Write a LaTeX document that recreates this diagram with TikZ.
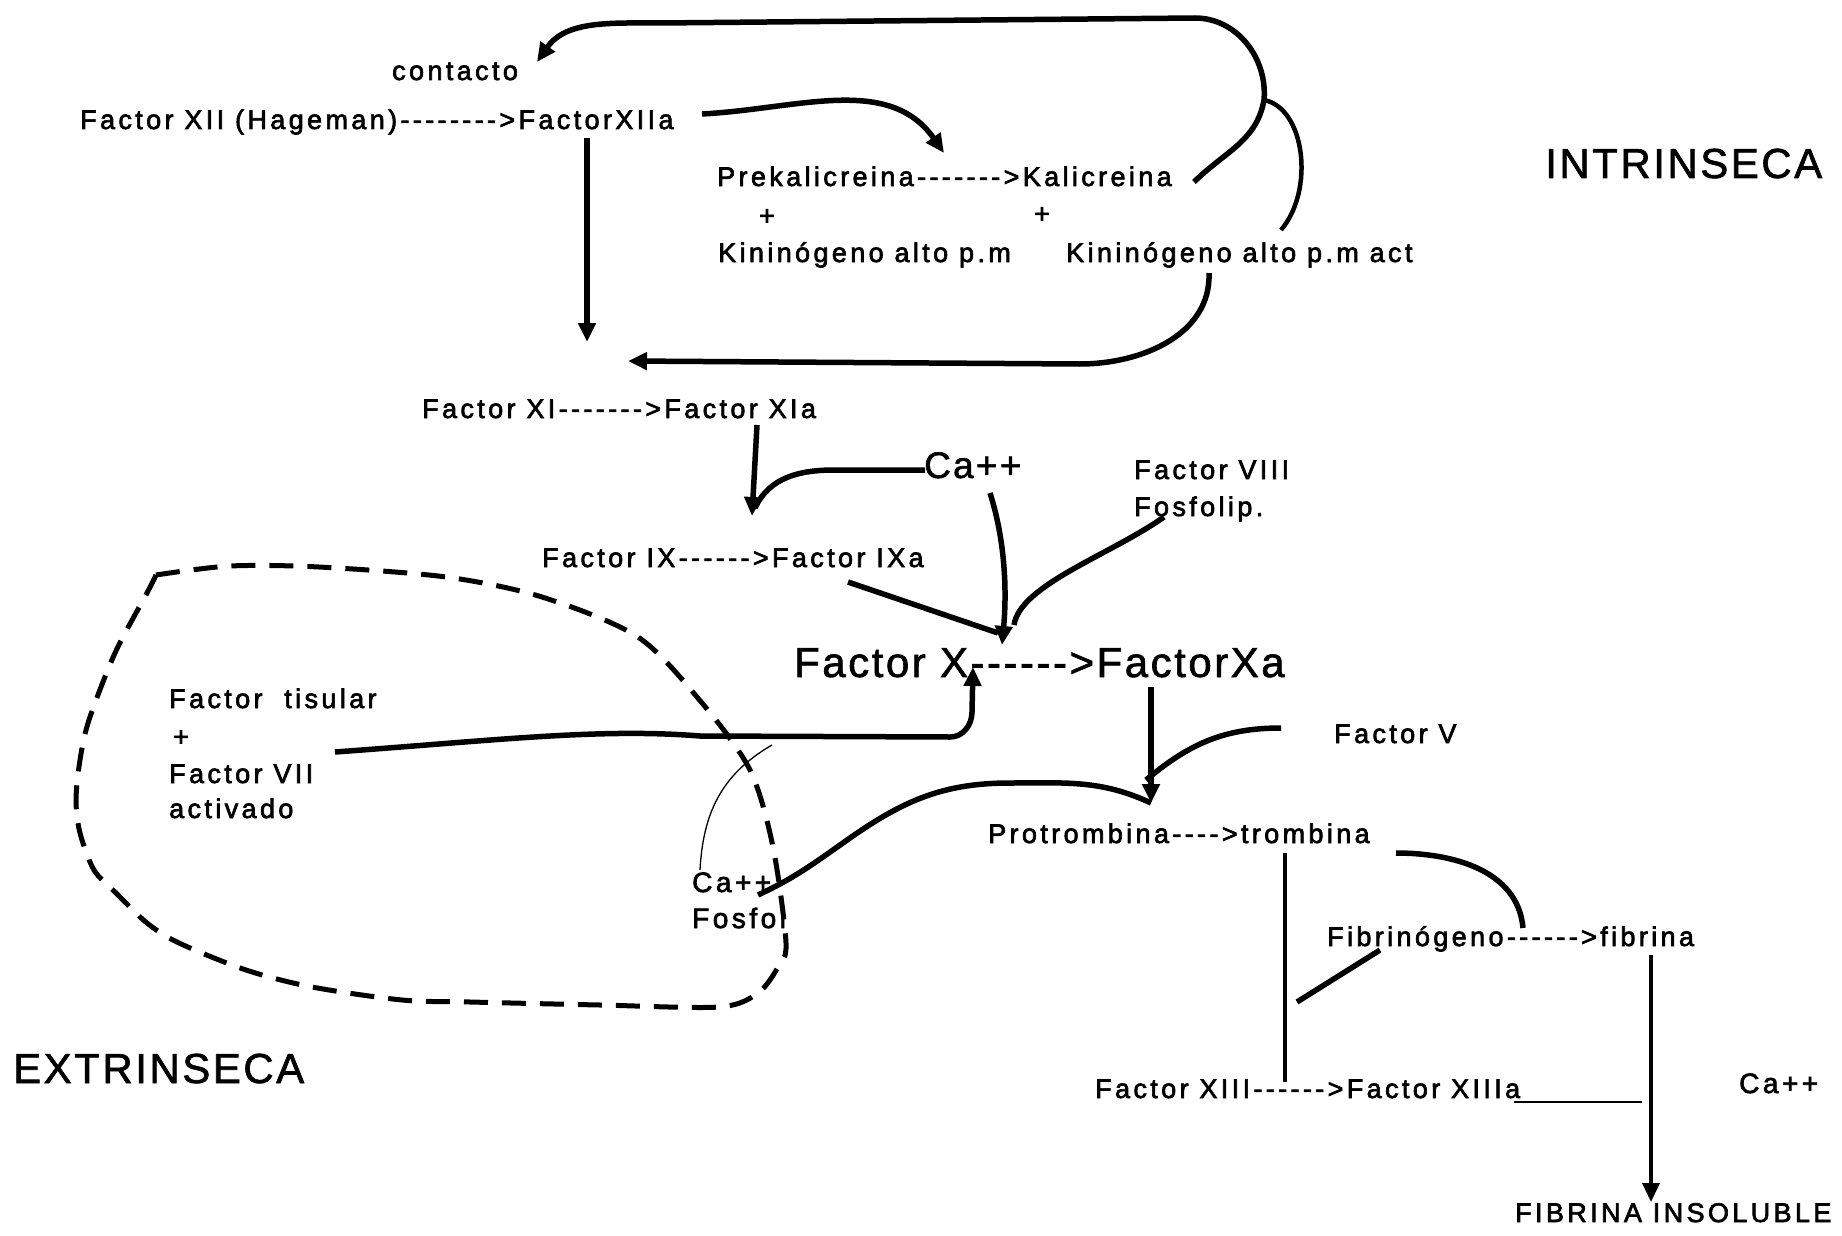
\documentclass[tikz,border=0pt]{standalone}
\usepackage{fontspec}
\setmainfont{Liberation Sans}
\newfontfamily\labface{Liberation Sans}[LetterSpace=12.5,FakeBold=2.5,Ligatures=TeXOff]
\newfontfamily\headface{Liberation Sans}[LetterSpace=6,FakeBold=1.5,Ligatures=TeXOff]
\usetikzlibrary{arrows.meta}

\begin{document}
\begin{tikzpicture}[x=1pt,y=-1pt,
    lab/.style={anchor=base west,inner sep=0pt,font=\labface\fontsize{27}{30}\selectfont},
    labca/.style={lab,font=\labface\fontsize{28}{32}\selectfont},
    head/.style={anchor=base west,inner sep=0pt,font=\headface\fontsize{42}{48}\selectfont},
    fat/.style={line width=5.5pt},
    med/.style={line width=3.5pt},
    tip/.style={-{Triangle[length=19pt,width=17pt]}}]
    \useasboundingbox (0,0) rectangle (1842,1236);

    % texts
    \path (392,80) node[lab] (contacto) {contacto};
    \path (80,129) node[lab] (fxii) {Factor XII (Hageman)-------->FactorXIIa};
    \path (717,186) node[lab] (preka) {Prekalicreina------->Kalicreina};
    \path (767,217) node[lab,anchor=center] (plusa) {+};
    \path (1042,215) node[lab,anchor=center] (plusb) {+};
    \path (718,262) node[lab] (kina) {Kininógeno alto p.m};
    \path (1066,262) node[lab] (kinb) {Kininógeno alto p.m act};
    \path (1545,178) node[head] (intr) {INTRINSECA};
    \path (422,418) node[lab] (fxi) {Factor XI------->Factor XIa};
    \path (924,478) node[head,font=\headface\fontsize{37}{42}\selectfont] (caa) {Ca++};
    \path (1134,479) node[lab] (fviii) {Factor VIII};
    \path (1134,516) node[lab] (fosfolip) {Fosfolip.};
    \path (542,567) node[lab] (fix) {Factor IX------>Factor IXa};
    \path (794,677) node[head] (fx) {Factor X------>FactorXa};
    \path (169,708) node[lab] (ftis) {Factor~~tisular};
    \path (181,738) node[lab,anchor=center] (ftplus) {+};
    \path (169,783) node[lab] (fvii) {Factor VII};
    \path (169,818) node[lab] (activ) {activado};
    \path (1334,743) node[lab] (fv) {Factor V};
    \path (988,843) node[lab] (protr) {Protrombina---->trombina};
    \path (692,892) node[labca] (cab) {Ca++};
    \path (692,928) node[labca] (fosfol) {Fosfol};
    \path (1327,946) node[lab] (fibr) {Fibrinógeno------>fibrina};
    \path (1095,1098) node[lab] (fxiii) {Factor XIII------>Factor XIIIa};
    \path (1739,1093) node[labca] (cac) {Ca++};
    \path (1515,1222) node[lab] (fins) {FIBRINA INSOLUBLE};
    \path (13,1083) node[head] (extr) {EXTRINSECA};

    % connector ends
    \coordinate (kalend) at (1194,182);
    \coordinate (loopjn) at (1264,100);
    \coordinate (conttip) at (537,62);
    \coordinate (kinbtop) at (1281,230);
    \coordinate (kinbbot) at (1209,273);
    \coordinate (xitip) at (628,361);
    \coordinate (xiiastart) at (702,114);
    \coordinate (prekatip) at (944,153);
    \coordinate (xiiadown) at (587,138);
    \coordinate (xitop) at (587,342);
    \coordinate (xiadown) at (757,425);
    \coordinate (ixtip) at (752,516);
    \coordinate (caaw) at (925,470);
    \coordinate (caabot) at (990,493);
    \coordinate (fxtip) at (1002,645);
    \coordinate (fosfmark) at (1164,517);
    \coordinate (fviiiend) at (1014,625);
    \coordinate (ixaout) at (848,582);
    \coordinate (ixaend) at (998,633);
    \coordinate (ftout) at (335,752);
    \coordinate (fxtipb) at (973,667);
    \coordinate (cabtop) at (700,870);
    \coordinate (cabend) at (772,745);
    \coordinate (cabplus) at (758,895);
    \coordinate (protrtip) at (1151,803);
    \coordinate (xadown) at (1151,687);
    \coordinate (fvw) at (1281,728);
    \coordinate (fvend) at (1146,780);
    \coordinate (trombdown) at (1285,853);
    \coordinate (xiiiup) at (1285,1082);
    \coordinate (trombout) at (1396,853);
    \coordinate (fibrin) at (1523,928);
    \coordinate (fibrdown) at (1380,950);
    \coordinate (fibrend) at (1297,1002);
    \coordinate (fibrinadown) at (1651,955);
    \coordinate (finstip) at (1651,1202);
    \coordinate (xiiiae) at (1514,1102);
    \coordinate (xiiiaend) at (1642,1102);

    % intrinseca
    \draw[fat,tip] (kalend) to[out=45,in=-100] (loopjn) to[out=85,in=0] (1195,18) -- (660,23) to[out=180,in=55] (conttip);
    \draw[line width=4.5pt] (loopjn) .. controls (1305,108) and (1315,190) .. (kinbtop);
    \draw[fat,tip] (kinbbot) to[out=-88,in=0] (1080,364) -- (xitip);
    \draw[fat,tip] (xiiastart) to[out=3,in=125] (prekatip);
    \draw[fat,tip] (xiiadown) -- (xitop);
    \draw[fat,tip] (xiadown) -- (ixtip);
    \draw[fat] (caaw) -- (835,470) to[out=180,in=65] (755,508);
    \draw[fat,tip] (caabot) .. controls (1005,540) and (1007,590) .. (fxtip);
    \draw[fat] (fosfmark) .. controls (1110,555) and (1020,585) .. (fviiiend);
    \draw[fat] (ixaout) -- (ixaend);

    % extrinseca
    \draw[fat,tip] (ftout) .. controls (500,740) and (600,728) .. (700,736) -- (950,737) to[out=0,in=-90] (972,712) -- (fxtipb);
    \draw[line width=5pt,dash pattern=on 24pt off 14pt] plot[smooth] coordinates {(156,575) (230,566) (319,567) (446,577) (542,597) (638,637) (702,703) (750,770) (773,847) (786,943) (778,967) (758,993) (719,1007) (600,1005) (470,1002) (402,1000) (312,987) (246,970) (179,943) (147,923) (116,893) (94,870) (80,833) (76,800) (80,760) (89,720) (115,653) (147,593) (156,575)};
    \draw[line width=1.3pt] (cabtop) .. controls (703,815) and (720,775) .. (cabend);
    \draw[fat] (cabplus) to[out=25,in=-145] (850,838) to[out=35,in=180] (1010,783) to[out=0,in=155] (protrtip);

    % comun
    \draw[fat,tip] (xadown) -- (protrtip);
    \draw[fat] (fvw) to[out=180,in=40] (fvend);
    \draw[med] (trombdown) -- (xiiiup);
    \draw[fat] (trombout) to[out=0,in=95] (fibrin);
    \draw[fat] (fibrdown) -- (fibrend);
    \draw[med,tip] (fibrinadown) -- (finstip);
    \draw[line width=1.5pt] (xiiiae) -- (xiiiaend);
\end{tikzpicture}
\end{document}
